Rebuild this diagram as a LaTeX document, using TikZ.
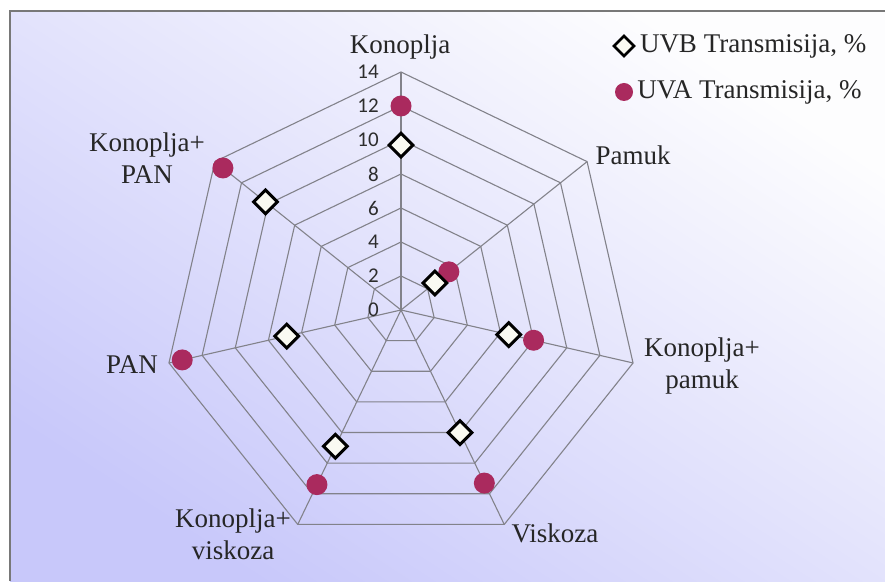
\documentclass[tikz,border=0pt]{standalone}
\usepackage{fontspec}
\setmainfont{Liberation Serif}
\newfontfamily\labelfont{Liberation Serif}
\newfontfamily\tickfont{Carlito}
\usetikzlibrary{shapes.geometric,positioning}

\definecolor{gridgray}{RGB}{130,130,138}
\definecolor{uvared}{RGB}{170,42,94}
\definecolor{bgtop}{RGB}{253,253,254}
\definecolor{bgmid}{RGB}{236,236,252}
\definecolor{bgbottom}{RGB}{200,200,250}
\definecolor{framegray}{RGB}{120,120,120}
\definecolor{ticktext}{RGB}{45,45,45}
\definecolor{diamondfill}{RGB}{250,250,242}

\begin{document}
\begin{tikzpicture}[x=1pt,y=1pt]

\tikzstyle{gridline} = [draw=gridgray, line width=1.1pt]
\tikzstyle{ticklabel} = [font=\tickfont\fontsize{21}{25}\selectfont, text=ticktext, anchor=east, inner sep=0pt]
\tikzstyle{axislabel} = [font=\labelfont\fontsize{27}{32}\selectfont, text=black!85, align=center, inner sep=0pt]
\tikzstyle{legtext} = [font=\labelfont\fontsize{27}{32}\selectfont, text=black!85, inner sep=0pt]
\tikzstyle{uvb} = [diamond, draw=black, fill=diamondfill, line width=3pt, minimum size=25pt, inner sep=0pt]
\tikzstyle{uva} = [circle, fill=uvared, minimum size=21pt, inner sep=0pt]

% background and frame
\useasboundingbox (0,0) rectangle (885,581);
\shade[top color=bgtop, middle color=bgmid, bottom color=bgbottom, shading angle=-33] (10,0) rectangle (885,570);
\draw[framegray, line width=1.5pt] (10,0) -- (10,570) -- (885,570);

% web, 17pt per unit
\begin{scope}[shift={(401,271)}, x=17pt, y=17pt]
\coordinate (O) at (0,0);
\foreach \k in {0,...,6}
  \coordinate (a\k) at ({90-\k*360/7}:14);
\foreach \r in {2,4,...,14}
  \draw[gridline] (90:\r) \foreach \k in {1,...,6} {-- ({90-\k*360/7}:\r)} -- cycle;
\foreach \k in {0,...,6}
  \draw[gridline] (O) -- (a\k);
\foreach \v in {0,2,...,14}
  \node (t\v) [ticklabel] at (-1.3,\v) {\v};

% UVA
\node (A0) [uva] at (90:12) {};
\node (A1) [uva] at (38.57:3.6) {};
\node (A2) [uva] at (-12.86:8.0) {};
\node (A3) [uva] at (-64.29:11.3) {};
\node (A4) [uva] at (-115.71:11.4) {};
\node (A5) [uva] at (-167.14:13.2) {};
\node (A6) [uva] at (141.43:13.4) {};

% UVB
\node (B0) [uvb] at (90:9.7) {};
\node (B1) [uvb] at (38.57:2.55) {};
\node (B2) [uvb] at (-12.86:6.5) {};
\node (B3) [uvb] at (-64.29:8.0) {};
\node (B4) [uvb] at (-115.71:8.9) {};
\node (B5) [uvb] at (-167.14:6.9) {};
\node (B6) [uvb] at (141.43:10.2) {};
\end{scope}

% axis names
\node (kon) [axislabel] at (400,534) {Konoplja};
\node (pam) [axislabel] at (633,426) {Pamuk};
\node (kpam) [axislabel] at (702,215) {Konoplja+\\pamuk};
\node (visk) [axislabel] at (555,48) {Viskoza};
\node (kvisk) [axislabel] at (233,47) {Konoplja+\\viskoza};
\node (pan) [axislabel] at (132,216) {PAN};
\node (kpan) [axislabel] at (147,423) {Konoplja+\\PAN};

% legend
\node (lb) [uvb, minimum size=21pt, line width=2.6pt] at (624,535) {};
\node (lbt) [legtext, right=4pt of lb] {UVB Transmisija, \%};
\node (la) [uva, minimum size=18pt] at (624,489) {};
\node (lat) [legtext, right=4pt of la] {UVA Transmisija, \%};

\end{tikzpicture}
\end{document}
